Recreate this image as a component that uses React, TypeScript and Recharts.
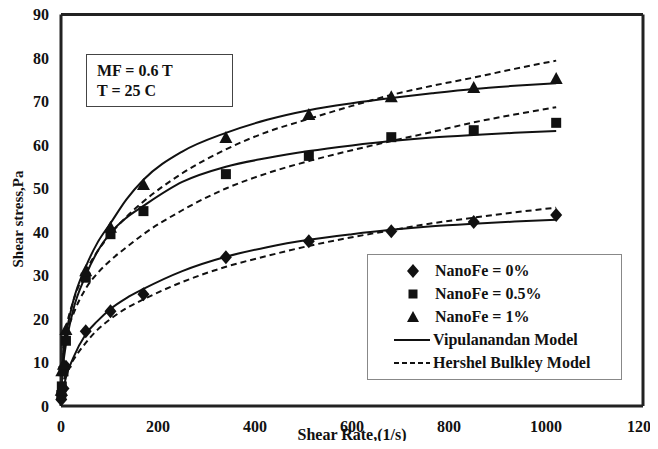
import React from 'react';
import {
  ComposedChart,
  Line,
  Scatter,
  XAxis,
  YAxis,
  ReferenceLine,
  Legend,
} from 'recharts';

// Measured shear rates (1/s) and shear stresses (Pa)
const shearRates = [0.5, 1.7, 5.1, 10.2, 51, 102, 170, 340, 511, 681, 851, 1021];
const nanoFe0 = [1.5, 2.5, 4, 9, 17.2, 21.8, 25.7, 34.2, 37.9, 40.2, 42.3, 43.9];
const nanoFe05 = [2.5, 4.5, 8, 15, 29.5, 39.5, 44.8, 53.3, 57.5, 61.8, 63.4, 65.1];
const nanoFe1 = [3.5, 8, 9.5, 17.5, 31, 41, 50.8, 61.6, 66.9, 71.0, 73.1, 75.2];

// Model curves
const curveRates = [0, 5, 10, 25, 51, 75, 102, 135, 170, 250, 340, 425, 511, 600, 681, 765, 851, 935, 1021];
const vip0 = [1.5, 4, 6.5, 11, 16.5, 19.5, 22.3, 24.8, 26.9, 31, 34.3, 36.5, 38.2, 39.5, 40.5, 41.3, 41.9, 42.4, 42.8];
const hb0 = [1.5, 5.5, 7.5, 10.5, 14.5, 17.5, 20, 22.5, 24.5, 28.5, 32, 34.5, 36.8, 38.8, 40.4, 42, 43.3, 44.5, 45.6];
const vip05 = [3, 10, 14, 22, 30, 35.5, 39.8, 43.3, 46, 51.5, 55, 57, 58.6, 59.9, 60.9, 61.7, 62.3, 62.8, 63.2];
const hb05 = [3, 13, 16, 21, 27, 30.5, 33.5, 36.5, 39.5, 45, 50, 53.5, 56.3, 58.8, 60.9, 63, 65.2, 67, 68.7];
const vip1 = [4, 12, 16, 24, 32, 37.5, 42, 47.5, 52, 58.5, 62.8, 65.8, 68, 69.6, 70.8, 71.9, 72.9, 73.6, 74.2];
const hb1 = [4, 14, 17.5, 24, 31, 35.5, 39.5, 43.5, 47, 53.5, 59, 63, 66, 69, 71.5, 73.6, 75.5, 77.5, 79.4];

const xTicks = [0, 200, 400, 600, 800, 1000, 1200];
const yTicks = [0, 10, 20, 30, 40, 50, 60, 70, 80, 90];

const legendItems = [
  { label: 'NanoFe = 0%', kind: 'diamond' },
  { label: 'NanoFe = 0.5%', kind: 'square' },
  { label: 'NanoFe = 1%', kind: 'triangle' },
  { label: 'Vipulanandan Model', kind: 'solid' },
  { label: 'Hershel Bulkley Model', kind: 'dashed' },
];

const annotationLines = ['MF = 0.6 T', 'T = 25 C'];

const toPoints = (xs: number[], ys: number[]) => xs.map((x, i) => ({ x, y: ys[i] }));

const INK = '#111';
const FONT = '"Liberation Serif", "Times New Roman", serif';

const Diamond = (p: any) => (
  <polygon
    points={`${p.cx},${p.cy - 7} ${p.cx + 6},${p.cy} ${p.cx},${p.cy + 7} ${p.cx - 6},${p.cy}`}
    fill={INK}
  />
);
const Square = (p: any) => <rect x={p.cx - 5} y={p.cy - 5} width={10} height={10} fill={INK} />;
const Triangle = (p: any) => (
  <polygon
    points={`${p.cx},${p.cy - 7} ${p.cx + 6.5},${p.cy + 5} ${p.cx - 6.5},${p.cy + 5}`}
    fill={INK}
  />
);

const LegendIcon = ({ kind }: { kind: string }) => {
  if (kind === 'solid' || kind === 'dashed') {
    return (
      <svg width={38} height={12} style={{ display: 'block' }}>
        <line
          x1={1}
          y1={6}
          x2={37}
          y2={6}
          stroke={INK}
          strokeWidth={2}
          strokeDasharray={kind === 'dashed' ? '5 3' : undefined}
        />
      </svg>
    );
  }
  return (
    <svg width={38} height={14} style={{ display: 'block' }}>
      {kind === 'diamond' && <Diamond cx={20} cy={7} />}
      {kind === 'square' && <rect x={15.5} y={2.5} width={9} height={9} fill={INK} />}
      {kind === 'triangle' && <polygon points="20,1 26,12 14,12" fill={INK} />}
    </svg>
  );
};

const renderLegend = () => (
  <div
    style={{
      width: 255,
      height: 126,
      boxSizing: 'border-box',
      border: '1px solid #888',
      background: '#fff',
      paddingTop: 4,
      fontFamily: FONT,
      fontWeight: 'bold',
      fontSize: 16,
      color: INK,
    }}
  >
    {legendItems.map((it) => (
      <div key={it.label} style={{ display: 'flex', alignItems: 'center', height: 23 }}>
        <div style={{ width: 25 }} />
        <LegendIcon kind={it.kind} />
        <div style={{ marginLeft: it.kind === 'solid' || it.kind === 'dashed' ? 2 : 4, whiteSpace: 'nowrap' }}>
          {it.label}
        </div>
      </div>
    ))}
  </div>
);

const XTitle = () => (
  <text x={352} y={440} textAnchor="middle" fontFamily={FONT} fontWeight="bold" fontSize={16} fill={INK}>
    Shear Rate,(1/s)
  </text>
);

const YTitle = () => (
  <text
    x={18}
    y={219}
    transform="rotate(-90, 18, 219)"
    textAnchor="middle"
    dominantBaseline="central"
    fontFamily={FONT}
    fontWeight="bold"
    fontSize={15}
    fill={INK}
  >
    Shear stress,Pa
  </text>
);

export default function App() {
  const tickStyle = { fontFamily: FONT, fontWeight: 'bold', fontSize: 16, fill: INK };
  return (
    <div style={{ position: 'relative', width: 658, height: 449, margin: '-8px 0 -8px -8px', background: '#fff' }}>
      <ComposedChart
        width={658}
        height={449}
        margin={{ top: 14.5, right: 15, left: 0, bottom: 0 }}
        style={{ background: '#fff', overflow: 'visible' }}
      >
        <XAxis
          dataKey="x"
          type="number"
          domain={[0, 1200]}
          ticks={xTicks}
          interval={0}
          height={43}
          tickLine={false}
          tickMargin={9}
          axisLine={{ stroke: '#222', strokeWidth: 3 }}
          tick={tickStyle}
          label={<XTitle />}
        />
        <YAxis
          dataKey="y"
          type="number"
          domain={[0, 90]}
          ticks={yTicks}
          interval={0}
          width={61}
          tickLine={false}
          tickMargin={6}
          axisLine={{ stroke: '#222', strokeWidth: 3 }}
          tick={tickStyle}
          label={<YTitle />}
        />
        <ReferenceLine y={90} stroke="#222" strokeWidth={3} />
        <ReferenceLine x={1200} stroke="#222" strokeWidth={3} />

        <Line data={toPoints(curveRates, vip0)} dataKey="y" type="monotone" stroke={INK} strokeWidth={2} dot={false} isAnimationActive={false} legendType="none" />
        <Line data={toPoints(curveRates, hb0)} dataKey="y" type="monotone" stroke={INK} strokeWidth={2} strokeDasharray="6 4" dot={false} isAnimationActive={false} legendType="none" />
        <Line data={toPoints(curveRates, vip05)} dataKey="y" type="monotone" stroke={INK} strokeWidth={2} dot={false} isAnimationActive={false} legendType="none" />
        <Line data={toPoints(curveRates, hb05)} dataKey="y" type="monotone" stroke={INK} strokeWidth={2} strokeDasharray="6 4" dot={false} isAnimationActive={false} legendType="none" />
        <Line data={toPoints(curveRates, vip1)} dataKey="y" type="monotone" stroke={INK} strokeWidth={2} dot={false} isAnimationActive={false} legendType="none" />
        <Line data={toPoints(curveRates, hb1)} dataKey="y" type="monotone" stroke={INK} strokeWidth={2} strokeDasharray="6 4" dot={false} isAnimationActive={false} legendType="none" />

        <Scatter data={toPoints(shearRates, nanoFe0)} dataKey="y" shape={Diamond} isAnimationActive={false} />
        <Scatter data={toPoints(shearRates, nanoFe05)} dataKey="y" shape={Square} isAnimationActive={false} />
        <Scatter data={toPoints(shearRates, nanoFe1)} dataKey="y" shape={Triangle} isAnimationActive={false} />

        <Legend
          layout="vertical"
          align="center"
          verticalAlign="middle"
          content={renderLegend}
          wrapperStyle={{ position: 'absolute', left: 367, top: 254, width: 255, height: 126 }}
        />
      </ComposedChart>
      <div
        style={{
          position: 'absolute',
          left: 86,
          top: 54,
          width: 147,
          height: 53,
          boxSizing: 'border-box',
          border: '1.5px solid #444',
          background: '#fff',
          fontFamily: FONT,
          fontWeight: 'bold',
          fontSize: 16,
          color: INK,
          lineHeight: '20px',
          padding: '6px 0 0 10px',
        }}
      >
        {annotationLines.map((t) => (
          <div key={t}>{t}</div>
        ))}
      </div>
    </div>
  );
}
